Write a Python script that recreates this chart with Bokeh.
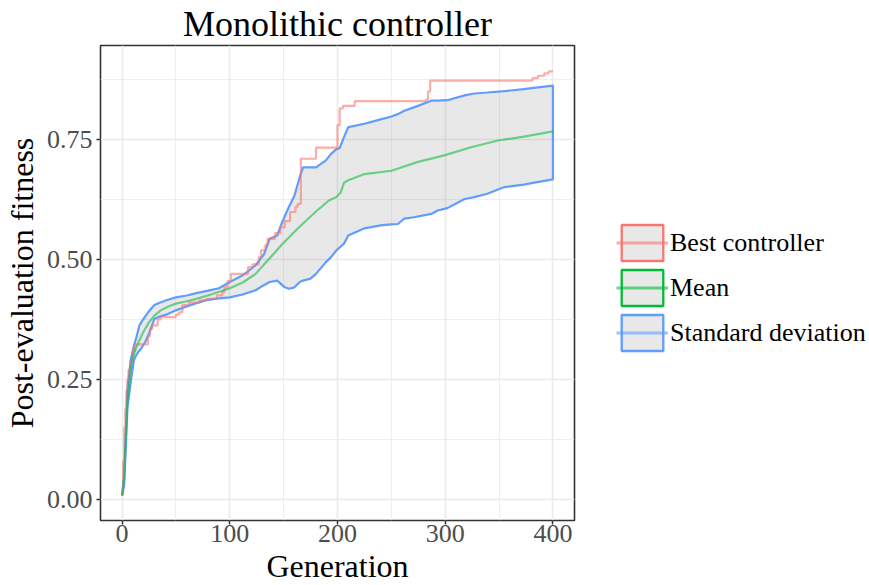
from bokeh.plotting import figure
from bokeh.models import Legend, LegendItem, FixedTicker, Range1d, ColumnDataSource
from bokeh.embed import file_html
from bokeh.resources import INLINE

# ---------------- data ----------------
gens_best = [0, 1, 2, 3, 4, 5, 6, 8, 10, 12, 24, 26, 28, 33, 36, 50, 53, 56, 62, 72, 78, 88, 93, 95, 98,
             101, 117, 121, 127, 129, 133, 135, 142, 147, 151, 156, 161, 163, 166, 180, 200, 202, 205,
             216, 282, 284, 286, 381, 386, 392, 396, 398, 400]
best = [0.01, 0.08, 0.15, 0.19, 0.227, 0.25, 0.27, 0.29, 0.31, 0.323, 0.34, 0.355, 0.3625, 0.375, 0.38,
        0.385, 0.39, 0.405, 0.41, 0.415, 0.418, 0.425, 0.432, 0.442, 0.455, 0.47, 0.484, 0.49, 0.505,
        0.519, 0.53, 0.543, 0.555, 0.567, 0.58, 0.599, 0.61, 0.616, 0.71, 0.733, 0.78, 0.815, 0.82,
        0.83, 0.833, 0.85, 0.873, 0.878, 0.883, 0.888, 0.892, 0.892, 0.892]

gens_mean = [0, 2, 5, 8, 10, 13, 16, 20, 25, 30, 36, 43, 50, 60, 69, 84, 100, 112, 124, 132, 140, 148,
             158, 168, 180, 192, 199, 203, 206, 210, 225, 250, 274, 299, 324, 349, 373, 400]
mean = [0.008, 0.05, 0.206, 0.27, 0.296, 0.315, 0.331, 0.35, 0.369, 0.383, 0.394, 0.402, 0.408, 0.413,
        0.418, 0.428, 0.44, 0.452, 0.47, 0.49, 0.51, 0.53, 0.553, 0.575, 0.60, 0.623, 0.63, 0.64, 0.66,
        0.665, 0.678, 0.685, 0.703, 0.717, 0.734, 0.748, 0.756, 0.767]

gens_sd = [0, 2, 5, 8, 11, 13, 16, 18, 22, 25, 30, 35, 41, 50, 60, 69, 80, 90, 100, 112, 124, 132, 137,
           144, 148, 151, 155, 160, 165, 168, 175, 180, 189, 194, 199, 202, 206, 210, 225, 240, 250, 256,
           262, 271, 287, 293, 302, 318, 327, 339, 355, 373, 380, 400]
sd_upper = [0.008, 0.046, 0.23, 0.29, 0.32, 0.335, 0.362, 0.37, 0.383, 0.392, 0.405, 0.41, 0.415, 0.421,
            0.425, 0.43, 0.435, 0.44, 0.453, 0.467, 0.488, 0.512, 0.543, 0.55, 0.574, 0.59, 0.61, 0.633,
            0.672, 0.692, 0.692, 0.692, 0.706, 0.72, 0.73, 0.732, 0.755, 0.776, 0.783, 0.792, 0.798,
            0.803, 0.81, 0.817, 0.831, 0.831, 0.832, 0.842, 0.846, 0.848, 0.851, 0.855, 0.857, 0.8625]
sd_lower = [0.008, 0.03, 0.19, 0.244, 0.29, 0.30, 0.31, 0.315, 0.33, 0.345, 0.376, 0.381, 0.385, 0.394,
            0.402, 0.409, 0.416, 0.419, 0.421, 0.427, 0.436, 0.447, 0.453, 0.456, 0.448, 0.442, 0.439,
            0.442, 0.453, 0.456, 0.46, 0.47, 0.494, 0.505, 0.519, 0.525, 0.533, 0.55, 0.565, 0.571,
            0.573, 0.574, 0.585, 0.588, 0.595, 0.602, 0.607, 0.626, 0.63, 0.637, 0.651, 0.656, 0.659,
            0.667]

x_ticks = [0, 100, 200, 300, 400]
x_minor = [50, 150, 250, 350]
y_ticks = [0, 0.25, 0.5, 0.75]
y_minor = [0.125, 0.375, 0.625, 0.875]
y_tick_labels = ["0.00", "0.25", "0.50", "0.75"]
series_labels = ["Best controller", "Mean", "Standard deviation"]
series_colors = ["#F8766D", "#00BA38", "#619CFF"]

FONT = "Liberation Serif"
NAN = float("nan")

p = figure(frame_width=474, frame_height=475,
           min_border_left=99, min_border_right=296, min_border_top=45, min_border_bottom=65,
           x_range=Range1d(-20, 420), y_range=Range1d(-0.044, 0.946),
           output_backend="svg", toolbar_location=None, title="Monolithic controller")

p.title.align = "center"
p.title.vertical_align = "top"
p.title.text_font = FONT
p.title.text_font_size = "36px"
p.title.text_font_style = "normal"
p.title.text_color = "black"
p.title.standoff = 0

p.background_fill_color = "white"
p.border_fill_color = "white"
p.outline_line_color = "#333333"
p.outline_line_width = 1.6

p.xaxis.ticker = FixedTicker(ticks=x_ticks, minor_ticks=x_minor)
p.yaxis.ticker = FixedTicker(ticks=y_ticks, minor_ticks=y_minor)
p.xgrid.ticker = FixedTicker(ticks=x_ticks, minor_ticks=x_minor)
p.ygrid.ticker = FixedTicker(ticks=y_ticks, minor_ticks=y_minor)
p.yaxis.major_label_overrides = {t: l for t, l in zip(y_ticks, y_tick_labels)}

for g in (p.xgrid, p.ygrid):
    g.grid_line_color = "#EBEBEB"
    g.grid_line_width = 1.6
    g.minor_grid_line_color = "#EBEBEB"
    g.minor_grid_line_width = 0.8

for ax in (p.xaxis, p.yaxis):
    ax.axis_line_color = None
    ax.major_tick_line_color = "#333333"
    ax.major_tick_line_width = 1.5
    ax.major_tick_out = 4
    ax.major_tick_in = 0
    ax.minor_tick_out = 0
    ax.minor_tick_in = 0
    ax.major_label_text_font = FONT
    ax.major_label_text_font_size = "26px"
    ax.major_label_text_color = "#4D4D4D"
    ax.axis_label_text_font = FONT
    ax.axis_label_text_font_size = "32px"
    ax.axis_label_text_font_style = "normal"
    ax.axis_label_text_color = "black"

p.xaxis.axis_label = "Generation"
p.yaxis.axis_label = "Post-evaluation fitness"
p.xaxis.major_label_standoff = 0
p.xaxis.axis_label_standoff = 3
p.yaxis.major_label_standoff = 4
p.yaxis.axis_label_standoff = 4

# ribbon (standard deviation band with outline)
xs = gens_sd + gens_sd[::-1]
ys = sd_upper + sd_lower[::-1]
p.patch(xs, ys, fill_color="#808080", fill_alpha=0.18, line_color=series_colors[2], line_width=2.2)

# best controller (step line)
p.step(gens_best, best, mode="after", line_color=series_colors[0], line_alpha=0.6, line_width=2.2)
# mean
p.line(gens_mean, mean, line_color=series_colors[1], line_alpha=0.55, line_width=2.2)

# legend keys (renderers holding a single undefined point: only the key is drawn)
items = []
for lab, col in zip(series_labels, series_colors):
    src = ColumnDataSource(data=dict(l=[NAN], r=[NAN], t=[NAN], b=[NAN]))
    box = p.quad(left="l", right="r", top="t", bottom="b", source=src,
                 fill_color="#E8E8E8", line_color=col, line_width=2.3)
    ln = p.line(x=[NAN], y=[NAN], line_color=col, line_alpha=0.6, line_width=3)
    items.append(LegendItem(label=lab, renderers=[box, ln]))

legend = Legend(items=items, location=(42, 165), orientation="vertical",
                glyph_width=52, glyph_height=45, spacing=0, padding=0, margin=0,
                label_standoff=2, label_text_font=FONT, label_text_font_size="26px",
                label_text_color="black", border_line_alpha=0, background_fill_alpha=0)
p.add_layout(legend, "right")

open("out.html", "w").write(file_html(p, INLINE))
